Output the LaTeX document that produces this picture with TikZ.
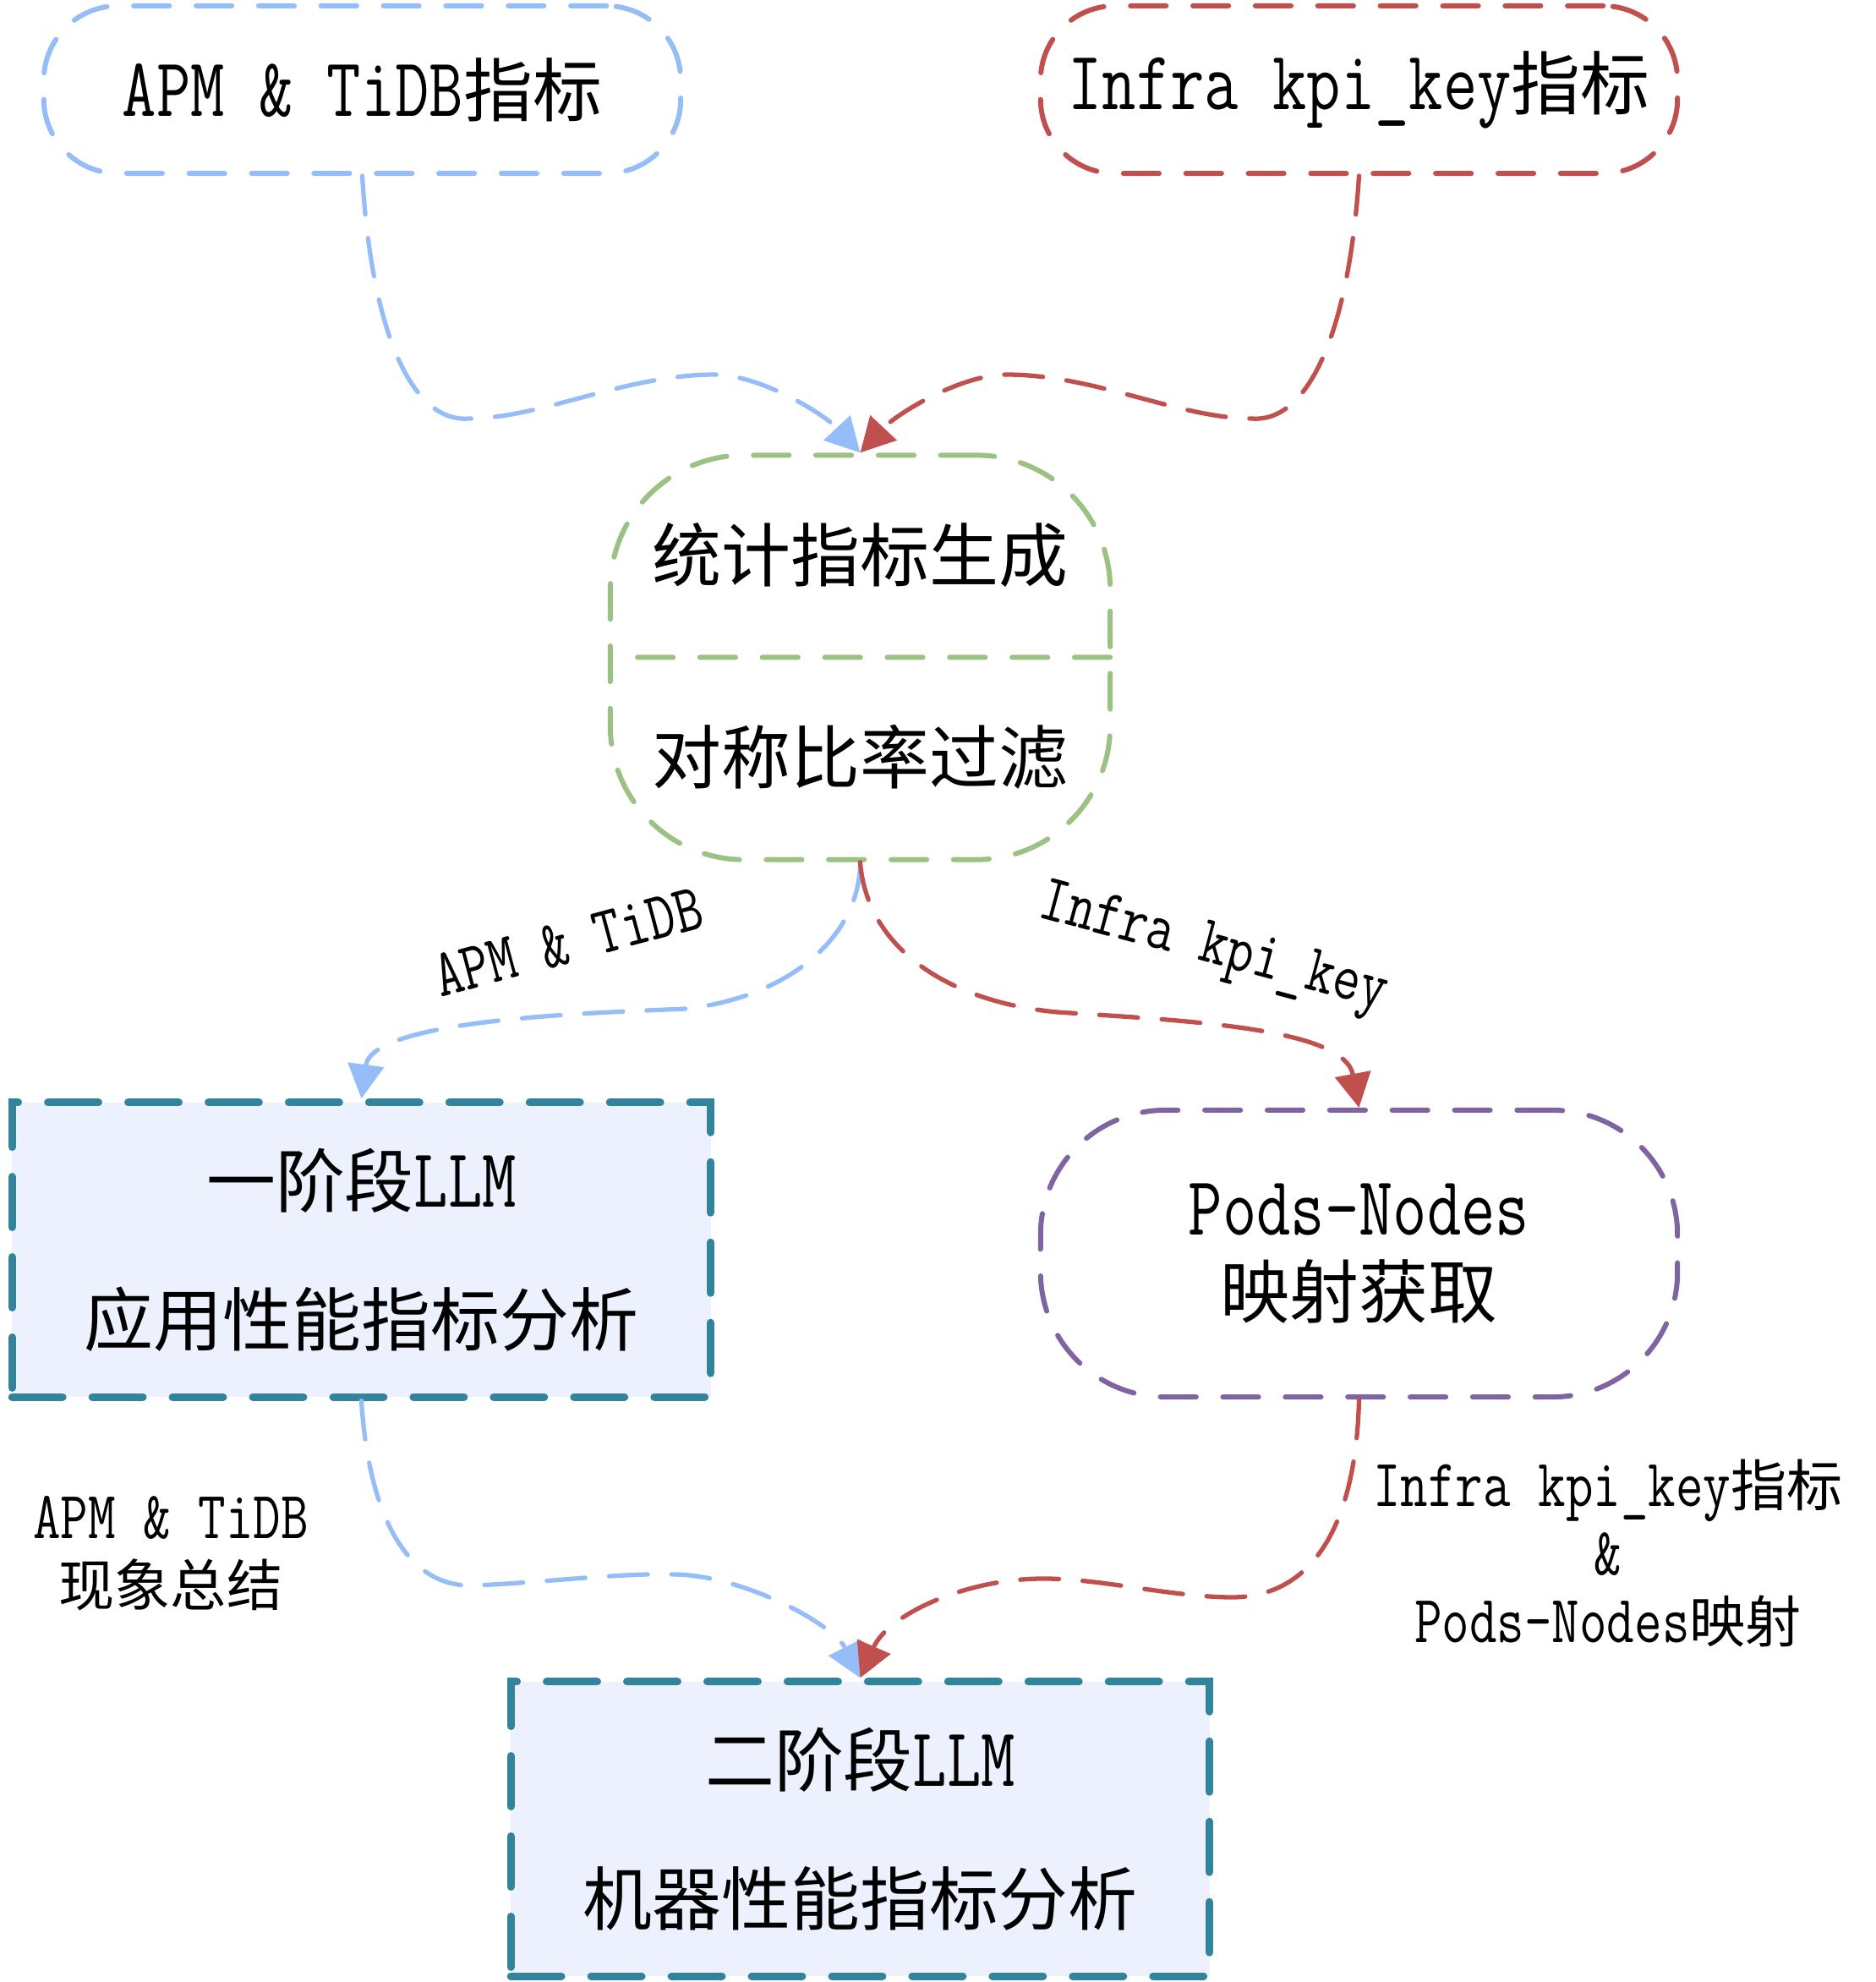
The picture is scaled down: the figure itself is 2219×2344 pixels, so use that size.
\documentclass[tikz,border=0pt]{standalone}
\usepackage{fontspec}
\setmainfont{Latin Modern Mono}[Scale=1.21,FakeStretch=0.79]
\newfontfamily\zhfont{Noto Sans CJK SC}
\newcommand{\zh}[1]{{\zhfont #1}}
\newcommand{\partstrut}{\rule[-3pt]{0pt}{20.7pt}}
\usepackage{tikz}
\usetikzlibrary{arrows.meta,shapes.multipart}

\definecolor{apmblue}{HTML}{95BDF8}
\definecolor{infrared}{HTML}{C0504D}
\definecolor{statgreen}{HTML}{9BC283}
\definecolor{podpurple}{HTML}{8064A2}
\definecolor{llmteal}{HTML}{31849B}
\definecolor{llmfill}{HTML}{EDF1FD}

\begin{document}
\begin{tikzpicture}[x=0.01cm,y=-0.01cm,
    font=\fontsize{23.3pt}{28pt}\selectfont,
    srcbox/.style={draw,line width=1.7pt,line cap=round,dash pattern=on 12pt off 9pt,
      rounded corners=25pt,minimum width=7.53cm,minimum height=1.98cm,inner sep=0pt},
    statbox/.style={rectangle split,rectangle split parts=2,draw=statgreen,
      line width=1.7pt,line cap=round,dash pattern=on 12pt off 9pt,
      rounded corners=45pt,minimum width=5.91cm,inner xsep=0pt,inner ysep=21.8pt},
    podbox/.style={draw=podpurple,line width=1.7pt,line cap=round,dash pattern=on 12pt off 9pt,
      rounded corners=42pt,minimum width=7.53cm,minimum height=3.39cm,inner sep=0pt,align=center},
    llmbox/.style={draw=llmteal,fill=llmfill,line width=2.6pt,line cap=round,
      dash pattern=on 17pt off 10pt,minimum width=8.26cm,minimum height=3.48cm,
      inner sep=0pt,align=center},
    lbl/.style={font=\fontsize{18.8pt}{22.8pt}\selectfont,align=center,inner sep=0pt},
    flow/.style={line width=1.5pt,line cap=round,dash pattern=on 13pt off 8pt,
      -{Triangle[length=11.5pt,width=12pt]}},
    apmflow/.style={flow,draw=apmblue,fill=none},
    infraflow/.style={flow,draw=infrared}]
  \useasboundingbox (0,0) rectangle (2219,2344);

  \node[srcbox,draw=apmblue] (apm) at (428.5,106) {APM \& TiDB\zh{指标}};
  \node[srcbox,draw=infrared] (infra) at (1607.5,106) {Infra kpi\_key\zh{指标}};
  \node[statbox] (stat) at (1017.5,777.5)
    {\partstrut\zh{统计指标生成}\nodepart{two}\partstrut\zh{对称比率过滤}};
  \node[llmbox] (llm1) at (427.5,1478) {\zh{一阶段}LLM\\[18.7pt]\zh{应用性能指标分析}};
  \node[podbox] (pods) at (1607.5,1482.5) {Pods-Nodes\\\zh{映射获取}};
  \node[llmbox] (llm2) at (1017.5,2163) {\zh{二阶段}LLM\\[18.7pt]\zh{机器性能指标分析}};

  \node[lbl,rotate=15] (lapm) at (672,1114) {APM \& TiDB};
  \node[lbl,rotate=-15] (linfra) at (1435,1124) {Infra kpi\_key};
  \node[lbl] (lsum) at (202,1837) {APM \& TiDB\\\zh{现象总结}};
  \node[lbl] (lmap) at (1902,1837) {Infra kpi\_key\zh{指标}\\\&\\Pods-Nodes\zh{映射}};

  \draw[apmflow] (apm.south) .. controls (440,400) and (490,500) .. (554,495)
    .. controls (640,495) and (740,443) .. (844,443)
    .. controls (900,443) and (975,490) .. (stat.north);
  \draw[infraflow] (infra.south) .. controls (1595,400) and (1545,500) .. (1481,495)
    .. controls (1395,495) and (1295,443) .. (1191,443)
    .. controls (1135,443) and (1060,490) .. (stat.north);
  \draw[apmflow] (stat.south) .. controls (1017,1110) and (930,1180) .. (811,1193)
    .. controls (700,1198) and (440,1205) .. (llm1.north);
  \draw[infraflow] (stat.south) .. controls (1025,1120) and (1120,1185) .. (1251,1197)
    .. controls (1400,1207) and (1590,1215) .. (pods.north);
  \draw[apmflow] (llm1.south) .. controls (436,1790) and (480,1878) .. (560,1875)
    .. controls (640,1872) and (730,1860) .. (800,1862)
    .. controls (880,1864) and (985,1920) .. (llm2.north);
  \draw[infraflow] (pods.south) .. controls (1604,1800) and (1555,1890) .. (1455,1889)
    .. controls (1380,1888) and (1300,1866) .. (1230,1867)
    .. controls (1140,1868) and (1050,1910) .. (llm2.north);
\end{tikzpicture}
\end{document}
